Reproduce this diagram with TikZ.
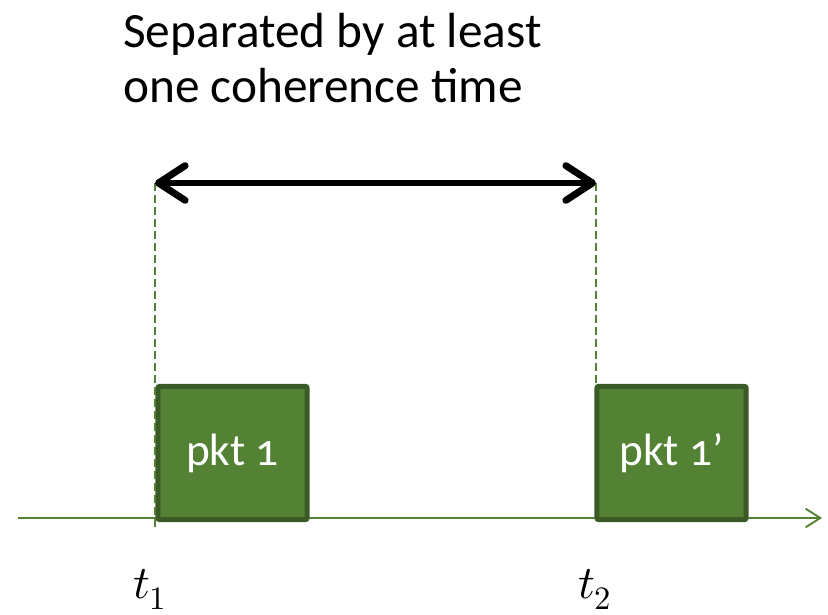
\documentclass[tikz,border=0pt]{standalone}
\usepackage{amsmath}
\usepackage{fontspec}
\usepackage{unicode-math}
\setmainfont{Carlito}[Numbers=OldStyle]
\setmathfont{Latin Modern Math}
\usetikzlibrary{arrows.meta}

\definecolor{pktgreen}{HTML}{548235}
\definecolor{pktdark}{HTML}{3B5A26}

\tikzset{
  pkt/.style={draw=pktdark, fill=pktgreen, line width=3.8pt, rounded corners=1.5pt,
    minimum width=112pt, minimum height=100pt, text=white, font=\fontsize{34}{40}\selectfont},
  guide/.style={pktgreen, line width=1.4pt, dash pattern=on 6pt off 3pt},
  tlabel/.style={font=\fontsize{35}{40}\selectfont},
}

\begin{document}
\begin{tikzpicture}[x=0.75pt, y=-0.75pt]
\useasboundingbox (0,0) rectangle (828,614);
% time axis
\coordinate (axstart) at (18,518);
\coordinate (axend) at (822,518);
\draw[pktgreen, line width=1.4pt, -{Straight Barb[length=11pt, width=14pt]}] (axstart) -- (axend);
% packets
\node[pkt] (p1) at (232.5,453) {pkt 1};
\node[pkt] (p2) at (671.5,453) {pkt 1\char"2019};
% coherence time markers
\coordinate (t1top) at (155,183);
\coordinate (t1bot) at (155,528);
\coordinate (t2top) at (596,183);
\draw[guide] (t1top) -- (t1bot);
\draw[guide] (t2top) -- (t2top |- p2.north);
\draw[line width=5.2pt, {Straight Barb[round, length=20pt, width=26pt]}-{Straight Barb[round, length=20pt, width=26pt]}] (t1top) -- (t2top);
\node[anchor=base west, align=left, inner sep=0pt, font=\fontsize{37}{41}\selectfont] (title) at (123,47) {Separated by at least};
\node[anchor=base west, inner sep=0pt, font=\fontsize{37}{41}\selectfont] (title2) at (123,102) {one coherence time};
\node[tlabel, anchor=base] (t1) at (150,598) {$t_1$};
\node[tlabel, anchor=base] (t2) at (595,598) {$t_2$};
\end{tikzpicture}
\end{document}
